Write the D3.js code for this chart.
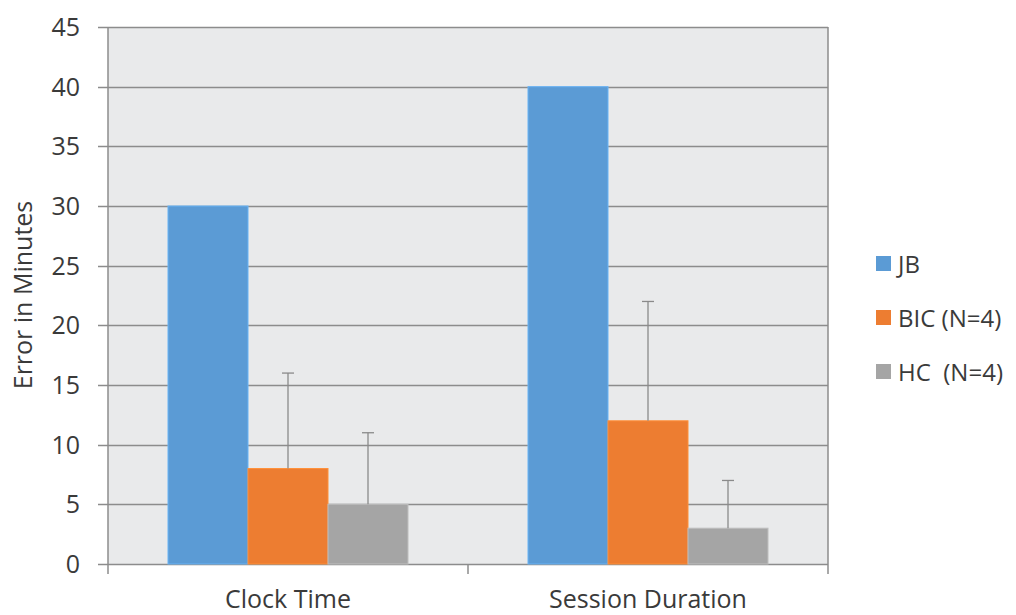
<!DOCTYPE html>
<html>
<head>
<meta charset="utf-8">
<script src="https://cdn.jsdelivr.net/npm/d3@7"></script>
<style>
  body { margin: 0; background: #fff; }
  svg text { font-family: "Open Sans", sans-serif; fill: #3a3a3a; }
</style>
</head>
<body>
<div id="chart"></div>
<script>
// data
var categories = ['Clock Time', 'Session Duration'];
var seriesNames = ['JB', 'BIC (N=4)', 'HC  (N=4)'];
var seriesColors = ['#5b9bd5', '#ed7d31', '#a5a5a5'];
var jbValues = [30, 40];
var bicValues = [8, 12];
var hcValues = [5, 3];
var jbErrors = [null, null];
var bicErrors = [16, 22];   // top of error whisker
var hcErrors = [11, 7];
var yTicks = [0, 5, 10, 15, 20, 25, 30, 35, 40, 45];

var series = [
  { name: seriesNames[0], color: seriesColors[0], values: jbValues, errs: jbErrors },
  { name: seriesNames[1], color: seriesColors[1], values: bicValues, errs: bicErrors },
  { name: seriesNames[2], color: seriesColors[2], values: hcValues, errs: hcErrors }
];

var width = 1016, height = 615;
var plot = { left: 108, right: 828, top: 27, bottom: 564 };

var svg = d3.select('#chart').append('svg')
  .attr('width', width)
  .attr('height', height);

var x0 = d3.scaleBand()
  .domain(categories)
  .range([plot.left, plot.right])
  .paddingInner(0)
  .paddingOuter(0);

var x1 = d3.scaleBand()
  .domain(seriesNames)
  .range([0, x0.bandwidth()])
  .paddingInner(0)
  .paddingOuter(0.75);

var y = d3.scaleLinear()
  .domain([0, 45])
  .range([plot.bottom, plot.top]);

//plot background
svg.append('rect')
  .attr('x', plot.left)
  .attr('y', plot.top)
  .attr('width', plot.right - plot.left)
  .attr('height', plot.bottom - plot.top)
  .attr('fill', '#e9eaeb');

//gridlines, extend left as tick marks
svg.append('g').selectAll('line')
  .data(yTicks)
  .enter().append('line')
  .attr('x1', plot.left - 10)
  .attr('x2', plot.right)
  .attr('y1', function (d) { return Math.round(y(d)) + 0.5; })
  .attr('y2', function (d) { return Math.round(y(d)) + 0.5; })
  .attr('stroke', '#8c8c8c')
  .attr('stroke-width', 1.5);

//y tick labels
svg.append('g').selectAll('text')
  .data(yTicks)
  .enter().append('text')
  .attr('x', 80)
  .attr('y', function (d) { return y(d); })
  .attr('dy', '0.36em')
  .attr('text-anchor', 'end')
  .style('font-size', '25px')
  .text(function (d) { return d; });

//left + right borders
[plot.left, plot.right].forEach(function (xx) {
  svg.append('line')
    .attr('x1', xx).attr('x2', xx)
    .attr('y1', plot.top).attr('y2', plot.bottom)
    .attr('stroke', '#8c8c8c')
    .attr('stroke-width', 1.5);
});

//category tick marks below axis
svg.append('g').selectAll('line')
  .data([plot.left, plot.left + x0.bandwidth(), plot.right])
  .enter().append('line')
  .attr('x1', function (d) { return d; })
  .attr('x2', function (d) { return d; })
  .attr('y1', plot.bottom)
  .attr('y2', plot.bottom + 10)
  .attr('stroke', '#8c8c8c')
  .attr('stroke-width', 1.5);

//bars
var groups = svg.append('g').selectAll('g.series')
  .data(series)
  .enter().append('g')
  .attr('class', 'series');

groups.selectAll('rect')
  .data(function (s) {
    return categories.map(function (c, i) { return { cat: c, s: s, v: s.values[i] }; });
  })
  .enter().append('rect')
  .attr('x', function (d) { return x0(d.cat) + x1(d.s.name); })
  .attr('y', function (d) { return y(d.v); })
  .attr('width', x1.bandwidth())
  .attr('height', function (d) { return y(0) - y(d.v); })
  .attr('fill', function (d) { return d.s.color; })
  .attr('stroke', function (d) { return d3.rgb(d.s.color).brighter(0.4); })
  .attr('stroke-width', 1);

//error bars (upper only)
var errData = [];
series.forEach(function (s) {
  categories.forEach(function (c, i) {
    if (s.errs[i] != null) {
      errData.push({ cx: x0(c) + x1(s.name) + x1.bandwidth() / 2, v: s.values[i], e: s.errs[i] });
    }
  });
});

var eb = svg.append('g').selectAll('g.err')
  .data(errData)
  .enter().append('g')
  .attr('class', 'err');

eb.append('line')
  .attr('x1', function (d) { return d.cx; })
  .attr('x2', function (d) { return d.cx; })
  .attr('y1', function (d) { return y(d.v); })
  .attr('y2', function (d) { return y(d.e); })
  .attr('stroke', '#8a8a8a')
  .attr('stroke-width', 1.3);

eb.append('line')
  .attr('x1', function (d) { return d.cx - 6; })
  .attr('x2', function (d) { return d.cx + 6; })
  .attr('y1', function (d) { return y(d.e); })
  .attr('y2', function (d) { return y(d.e); })
  .attr('stroke', '#8a8a8a')
  .attr('stroke-width', 1.3);

//category labels
svg.append('g').selectAll('text')
  .data(categories)
  .enter().append('text')
  .attr('x', function (d) { return x0(d) + x0.bandwidth() / 2; })
  .attr('y', 608)
  .attr('text-anchor', 'middle')
  .style('font-size', '25px')
  .text(function (d) { return d; });

//y axis title
svg.append('text')
  .attr('transform', 'translate(32,295) rotate(-90)')
  .attr('text-anchor', 'middle')
  .style('font-size', '25px')
  .text('Error in Minutes');

//legend
var legend = svg.append('g').selectAll('g.leg')
  .data(series)
  .enter().append('g')
  .attr('class', 'leg')
  .attr('transform', function (d, i) { return 'translate(876,' + (264 + i * 54) + ')'; });

legend.append('rect')
  .attr('x', 0)
  .attr('y', -8)
  .attr('width', 15)
  .attr('height', 15)
  .attr('fill', function (d) { return d.color; });

legend.append('text')
  .attr('x', 22)
  .attr('y', 0)
  .attr('dy', '0.36em')
  .style('font-size', '24px')
  .style('white-space', 'pre')
  .text(function (d) { return d.name; });
</script>
</body>
</html>
